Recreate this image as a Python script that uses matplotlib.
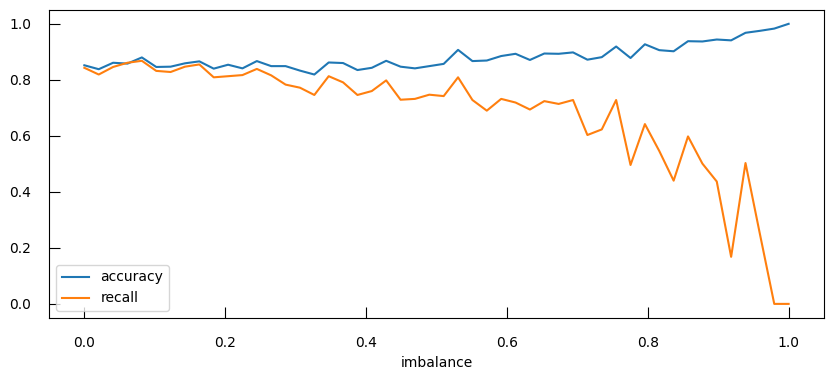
"""Accuracy and recall against class imbalance."""

import matplotlib

matplotlib.use("Agg")
import matplotlib.pyplot as plt
import numpy as np

# 50 evenly spaced imbalance levels from 0 to 1
imbalance = np.linspace(0, 1, 50)

accuracy = [
    0.852, 0.838, 0.861, 0.858, 0.880, 0.846, 0.847, 0.859, 0.866, 0.840,
    0.854, 0.841, 0.867, 0.849, 0.849, 0.833, 0.819, 0.862, 0.860, 0.835,
    0.843, 0.868, 0.847, 0.841, 0.849, 0.857, 0.907, 0.867, 0.869, 0.885,
    0.893, 0.871, 0.894, 0.893, 0.898, 0.872, 0.881, 0.919, 0.878, 0.927,
    0.906, 0.902, 0.938, 0.937, 0.944, 0.941, 0.968, 0.975, 0.983, 1.000,
]

recall = [
    0.843, 0.819, 0.846, 0.861, 0.868, 0.832, 0.828, 0.847, 0.855, 0.809,
    0.813, 0.817, 0.839, 0.816, 0.783, 0.772, 0.746, 0.813, 0.791, 0.746,
    0.760, 0.798, 0.729, 0.732, 0.747, 0.742, 0.809, 0.728, 0.690, 0.732,
    0.719, 0.694, 0.724, 0.714, 0.728, 0.603, 0.623, 0.728, 0.496, 0.642,
    0.546, 0.440, 0.598, 0.501, 0.437, 0.168, 0.503, 0.250, 0.000, 0.000,
]


def main() -> None:
    fig, ax = plt.subplots(figsize=(8.33, 3.78), dpi=100)
    fig.subplots_adjust(left=0.059, right=0.989, top=0.974, bottom=0.159)

    ax.plot(imbalance, accuracy, label="accuracy")
    ax.plot(imbalance, recall, label="recall")

    ax.set_xlabel("imbalance")
    ax.tick_params(direction="in", length=8, pad=13)
    ax.legend(loc="lower left")

    fig.savefig("out.png", dpi=100)


if __name__ == "__main__":
    main()
